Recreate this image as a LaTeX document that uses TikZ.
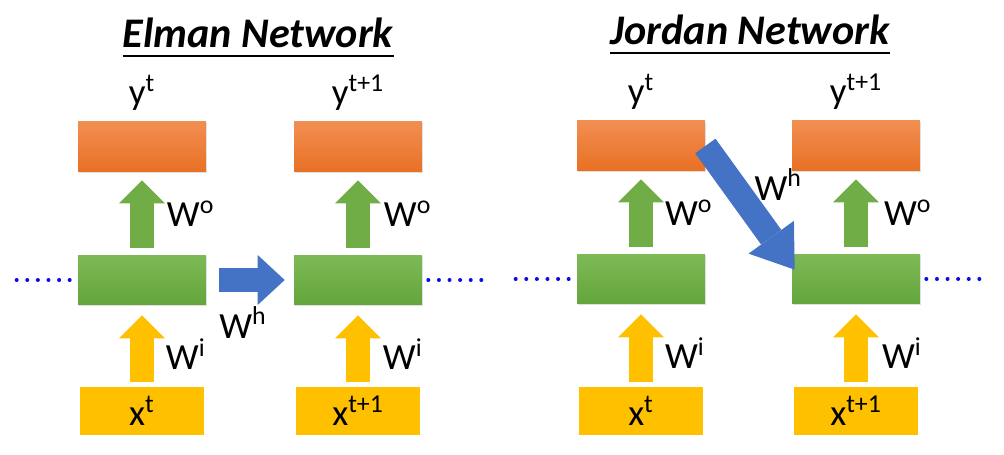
\documentclass[tikz,border=0pt]{standalone}
\usepackage{fontspec}
\setmainfont{Carlito}
\usetikzlibrary{positioning,arrows.meta,calc,shadows}
\definecolor{outtop}{RGB}{242,142,82}
\definecolor{outbot}{RGB}{232,112,35}
\definecolor{hidtop}{RGB}{125,186,86}
\definecolor{hidbot}{RGB}{100,165,60}
\definecolor{inyellow}{RGB}{255,192,0}
\definecolor{wgreen}{RGB}{112,173,71}
\definecolor{wblue}{RGB}{68,114,196}
\definecolor{dotblue}{RGB}{10,10,230}
\begin{document}
\begin{tikzpicture}[%
  x = 0.02cm, y = -0.02cm,
  box/.style = {minimum width = 2.56cm, minimum height = 1cm, inner sep = 0pt},
  outbox/.style = {box, top color = outtop, bottom color = outbot,
    drop shadow = {shadow xshift = 0.4pt, shadow yshift = -0.8pt, opacity = 0.25}},
  hidbox/.style = {box, top color = hidtop, bottom color = hidbot,
    drop shadow = {shadow xshift = 0.4pt, shadow yshift = -0.8pt, opacity = 0.25}},
  inbox/.style = {box, fill = inyellow, minimum width = 2.5cm, minimum height = 0.98cm,
    font = \fontsize{21}{24}\selectfont},
  lbl/.style = {text = black, font = \fontsize{21}{24}\selectfont, inner sep = 0pt},
  title/.style = {font = \fontsize{24}{28}\selectfont\bfseries\itshape, inner sep = 0pt},
  uparrow/.style = {line width = 0.48cm,
    -{Triangle[length = 0.46cm, width = 0.92cm, line width = 0pt]}},
  outarrow/.style = {uparrow, wgreen, shorten <= 0.14cm, shorten >= 0.16cm},
  inarrow/.style = {uparrow, inyellow, shorten <= 0.08cm, shorten >= 0.2cm},
  harrow/.style = {wblue, line width = 0.48cm, shorten <= 0.26cm, shorten >= 0.18cm,
    -{Triangle[length = 0.54cm, width = 1cm, line width = 0pt]}},
  jarrow/.style = {wblue, line width = 0.5cm,
    -{Triangle[length = 0.8cm, width = 1.12cm, line width = 0pt]}},
  dots/.style = {dotblue, line width = 0.08cm, line cap = round,
    dash pattern = on 0pt off 0.212cm}]
  \useasboundingbox (0, 0) rectangle (1004, 455);

  % Elman network
  \node[title] (etitle) at (258, 33) {Elman Network};
  \draw[line width = 0.04cm] ([yshift = -5pt]etitle.base west) -- ([yshift = -5pt]etitle.base east);

  \node[outbox] (ey1) at (142, 147) {};
  \node[outbox] (ey2) at (358, 147) {};
  \node[hidbox] (eh1) at (142, 280) {};
  \node[hidbox] (eh2) at (358, 280) {};
  \node[inbox] (ex1) at (142, 411) {x\textsuperscript{t}};
  \node[inbox] (ex2) at (358, 411) {x\textsuperscript{t+1}};
  \node[lbl, above = 0.22cm of ey1] (eyl1) {y\textsuperscript{t}};
  \node[lbl, above = 0.22cm of ey2] (eyl2) {y\textsuperscript{t+1}};

  \draw[outarrow] (eh1.north) -- (ey1.south)
    node[lbl, pos = 0.5, anchor = west, xshift = 0.26cm] {W\textsuperscript{o}};
  \draw[outarrow] (eh2.north) -- (ey2.south)
    node[lbl, pos = 0.5, anchor = west, xshift = 0.28cm] {W\textsuperscript{o}};
  \draw[inarrow] (ex1.north) -- (eh1.south)
    node[lbl, pos = 0.4, anchor = west, xshift = 0.24cm] {W\textsuperscript{i}};
  \draw[inarrow] (ex2.north) -- (eh2.south)
    node[lbl, pos = 0.4, anchor = west, xshift = 0.26cm] {W\textsuperscript{i}};
  \draw[harrow] (eh1.east) -- (eh2.west)
    node[lbl, pos = 0.42, below = 0.3cm] {W\textsuperscript{h}};

  \draw[dots] ([xshift = -0.16cm]eh1.west) -- ++(-54, 0);
  \draw[dots] ([xshift = 0.12cm]eh2.east) -- ++(54, 0);

  % Jordan network
  \node[title] (jtitle) at (750, 30) {Jordan Network};
  \draw[line width = 0.04cm] ([yshift = -5pt]jtitle.base west) -- ([yshift = -5pt]jtitle.base east);

  \node[outbox] (jy1) at (641, 146) {};
  \node[outbox] (jy2) at (856, 146) {};
  \node[hidbox] (jh1) at (641, 279) {};
  \node[hidbox] (jh2) at (856, 279) {};
  \node[inbox] (jx1) at (641, 411) {x\textsuperscript{t}};
  \node[inbox] (jx2) at (856, 411) {x\textsuperscript{t+1}};
  \node[lbl, above = 0.22cm of jy1] (jyl1) {y\textsuperscript{t}};
  \node[lbl, above = 0.22cm of jy2] (jyl2) {y\textsuperscript{t+1}};

  \draw[outarrow] (jh1.north) -- (jy1.south)
    node[lbl, pos = 0.5, anchor = west, xshift = 0.24cm] {W\textsuperscript{o}};
  \draw[outarrow] (jh2.north) -- (jy2.south)
    node[lbl, pos = 0.5, anchor = west, xshift = 0.32cm] {W\textsuperscript{o}};
  \draw[inarrow] (jx1.north) -- (jh1.south)
    node[lbl, pos = 0.4, anchor = west, xshift = 0.24cm] {W\textsuperscript{i}};
  \draw[inarrow] (jx2.north) -- (jh2.south)
    node[lbl, pos = 0.4, anchor = west, xshift = 0.28cm] {W\textsuperscript{i}};
  \draw[jarrow] (jy1.east) -- ($(jh2.north west) + (3, 16)$)
    node[lbl, pos = 0.4, anchor = west, xshift = 0.02cm, yshift = 0.22cm] {W\textsuperscript{h}};

  \draw[dots] ([xshift = -0.16cm]jh1.west) -- ++(-54, 0);
  \draw[dots] ([xshift = 0.12cm]jh2.east) -- ++(54, 0);
\end{tikzpicture}
\end{document}
